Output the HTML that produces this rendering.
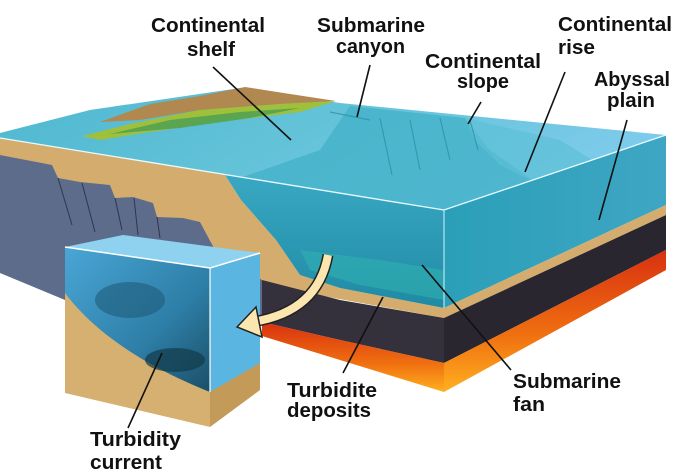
<!DOCTYPE html>
<html><head><meta charset="utf-8"><style>
html,body{margin:0;padding:0;background:#fff;width:674px;height:474px;overflow:hidden}
svg{display:block}
text{font-family:"Liberation Sans",sans-serif;font-weight:bold;font-size:20px;fill:#111}
</style></head><body>
<svg width="674" height="474" viewBox="0 0 674 474" xmlns="http://www.w3.org/2000/svg">
<defs>
<linearGradient id="top" x1="0" y1="0" x2="1" y2="0.3">
<stop offset="0" stop-color="#4fb8d0"/><stop offset="0.5" stop-color="#62c2d8"/><stop offset="1" stop-color="#7ccbea"/></linearGradient>
<linearGradient id="wf" x1="0" y1="0" x2="0" y2="1">
<stop offset="0" stop-color="#3aa8c4"/><stop offset="1" stop-color="#1f8aa3"/></linearGradient>
<linearGradient id="wr" x1="0" y1="0" x2="1" y2="0">
<stop offset="0" stop-color="#2b9fb8"/><stop offset="1" stop-color="#3ea6c4"/></linearGradient>
<linearGradient id="org" x1="0" y1="0" x2="0" y2="1">
<stop offset="0" stop-color="#d83010"/><stop offset="0.6" stop-color="#f07010"/><stop offset="1" stop-color="#ffb020"/></linearGradient>
<linearGradient id="inw" x1="0" y1="0" x2="1" y2="1">
<stop offset="0" stop-color="#4aa6d6"/><stop offset="0.6" stop-color="#2e7fa8"/><stop offset="1" stop-color="#1a4f66"/></linearGradient>
</defs>

<polygon points="0,133 90,110 240,88 340,103 666,135 444,210 0,138" fill="url(#top)"/>
<polygon points="350,106 465,118 490,150 540,185 520,200 444,210 330,195 240,178 320,150" fill="#43b2c8" opacity="0.8"/>
<polygon points="465,118 475,140 500,165 540,185 600,165 560,140" fill="#5cc0d6" opacity="0.7"/>
<g stroke="#2a8ea6" stroke-width="1.2" opacity="0.7">
<line x1="470" y1="120" x2="478" y2="150"/><line x1="440" y1="118" x2="450" y2="160"/>
<line x1="410" y1="120" x2="420" y2="170"/><line x1="380" y1="118" x2="392" y2="175"/>
<line x1="330" y1="112" x2="370" y2="120"/></g>
<polygon points="100,122 150,104 200,96 245,87 290,94 336,101 280,104 200,110 140,120" fill="#b08850"/>
<polygon points="82,136 130,124 200,110 280,104 336,101 300,112 220,122 150,132 100,140" fill="#9fc03a"/>
<polygon points="110,134 170,120 240,112 300,108 250,118 180,128" fill="#3f9a5a" opacity="0.7"/>

<polygon points="0,138 225,175 241,200 276,240 300,275 340,288 444,308 444,318 262,285 0,273" fill="#d4ad6e"/>
<polygon points="0,155 52,165 58,178 80,182 110,185 115,198 133,197 153,203 157,217 183,218 200,222 215,250 262,280 262,322 65,300 0,273" fill="#5e6c8c"/>
<g stroke="#2e3550" stroke-width="1"><line x1="58" y1="178" x2="72" y2="225"/><line x1="82" y1="183" x2="95" y2="232"/><line x1="115" y1="198" x2="122" y2="230"/><line x1="134" y1="198" x2="138" y2="235"/><line x1="157" y1="217" x2="160" y2="238"/></g>
<polygon points="225,175 444,210 444,308 340,288 300,275 276,240 241,200" fill="url(#wf)"/>
<polygon points="300,250 380,260 444,270 444,300 360,285 310,270" fill="#2fb0b0" opacity="0.6"/>
<polygon points="262,280 340,300 444,318 444,363 340,340 262,322" fill="#34303c"/>
<polygon points="262,322 340,340 444,363 444,392 340,360 262,336" fill="url(#org)"/>
<polygon points="444,210 666,135 666,205 444,308" fill="url(#wr)"/>
<polygon points="444,308 666,205 666,215 444,318" fill="#d4ad6e"/>
<polygon points="444,318 666,215 666,250 444,363" fill="#2a2630"/>
<polygon points="444,363 666,250 666,270 444,392" fill="url(#org)"/>
<polyline points="0,138 444,210 666,135" fill="none" stroke="#e8fbff" stroke-width="1.3"/>
<line x1="444" y1="210" x2="444" y2="308" stroke="#d0f4ff" stroke-width="1"/>

<polygon points="65,247 210,268 210,427 65,393" fill="#d6b070"/>
<path d="M65,247 L210,268 L210,392 C160,372 100,340 65,293 Z" fill="url(#inw)"/>
<ellipse cx="130" cy="300" rx="35" ry="18" fill="#1e5c7a" opacity="0.6"/>
<ellipse cx="175" cy="360" rx="30" ry="12" fill="#123a4a" opacity="0.7"/>
<polygon points="210,268 260,253 260,390 210,427" fill="#c49a58"/>
<polygon points="210,268 260,253 260,363 210,392" fill="#5ab6e0"/>
<polygon points="65,247 123,235 260,253 210,268" fill="#8ed2f0"/>
<polyline points="65,247 210,268 260,253" fill="none" stroke="#fff" stroke-width="1.5"/>
<line x1="210" y1="268" x2="210" y2="392" stroke="#fff" stroke-width="1.2"/>

<path d="M328,255 Q318,312 252,322" fill="none" stroke="#222" stroke-width="11"/>
<path d="M328,255 Q318,312 252,322" fill="none" stroke="#fbe6b0" stroke-width="8"/>
<polygon points="237,327 256,307 262,337" fill="#fbe6b0" stroke="#222" stroke-width="1.5"/>

<g stroke="#111" stroke-width="1.6">
<line x1="213" y1="67" x2="291" y2="140"/>
<line x1="370" y1="65" x2="357" y2="117"/>
<line x1="481" y1="102" x2="468" y2="124"/>
<line x1="565" y1="72" x2="525" y2="172"/>
<line x1="627" y1="120" x2="599" y2="220"/>
<line x1="343" y1="373" x2="383" y2="297"/>
<line x1="422" y1="265" x2="511" y2="370"/>
<line x1="162" y1="353" x2="128" y2="428"/>
</g>

<text x="151" y="32" textLength="114" lengthAdjust="spacingAndGlyphs">Continental</text>
<text x="187" y="56" textLength="48" lengthAdjust="spacingAndGlyphs">shelf</text>
<text x="317" y="32" textLength="108" lengthAdjust="spacingAndGlyphs">Submarine</text>
<text x="336" y="53" textLength="69" lengthAdjust="spacingAndGlyphs">canyon</text>
<text x="425" y="68" textLength="116" lengthAdjust="spacingAndGlyphs">Continental</text>
<text x="457" y="88" textLength="52" lengthAdjust="spacingAndGlyphs">slope</text>
<text x="558" y="31" textLength="114" lengthAdjust="spacingAndGlyphs">Continental</text>
<text x="558" y="54" textLength="37" lengthAdjust="spacingAndGlyphs">rise</text>
<text x="594" y="86" textLength="76" lengthAdjust="spacingAndGlyphs">Abyssal</text>
<text x="607" y="107" textLength="48" lengthAdjust="spacingAndGlyphs">plain</text>
<text x="287" y="397" textLength="90" lengthAdjust="spacingAndGlyphs">Turbidite</text>
<text x="287" y="417" textLength="84" lengthAdjust="spacingAndGlyphs">deposits</text>
<text x="513" y="388" textLength="108" lengthAdjust="spacingAndGlyphs">Submarine</text>
<text x="513" y="411" textLength="32" lengthAdjust="spacingAndGlyphs">fan</text>
<text x="90" y="446" textLength="91" lengthAdjust="spacingAndGlyphs">Turbidity</text>
<text x="90" y="469" textLength="72" lengthAdjust="spacingAndGlyphs">current</text>
</svg>
</body></html>
